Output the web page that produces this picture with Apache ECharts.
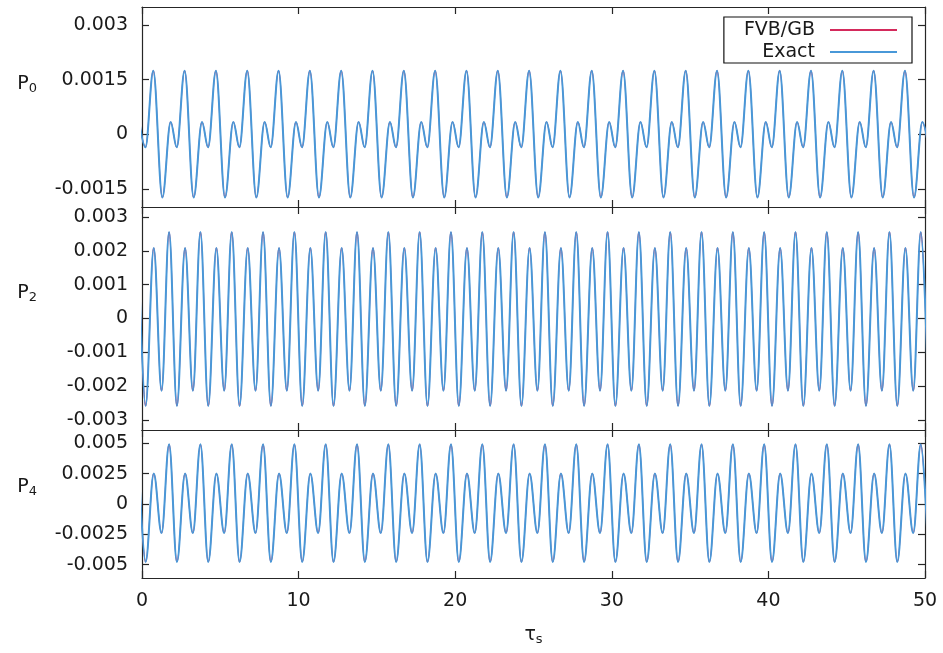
<!DOCTYPE html>
<html>
<head>
<meta charset="utf-8">
<script src="https://cdn.jsdelivr.net/npm/echarts@6/dist/echarts.min.js"></script>
<style>
  html, body { margin: 0; padding: 0; background: #ffffff; }
  #chart { width: 943px; height: 653px; }
</style>
</head>
<body>
<div id="chart"></div>
<script>
// Turning points (τs, value) of the P0 curve: small dip, main peak, main trough, small bump
const tauP0 = [
  -0.17,
  0.22, 0.72, 1.30, 1.83,
  2.22, 2.72, 3.30, 3.83,
  4.22, 4.72, 5.30, 5.83,
  6.22, 6.72, 7.30, 7.83,
  8.22, 8.72, 9.30, 9.83,
  10.22, 10.72, 11.30, 11.83,
  12.22, 12.72, 13.30, 13.83,
  14.22, 14.72, 15.30, 15.83,
  16.22, 16.72, 17.30, 17.83,
  18.22, 18.72, 19.30, 19.83,
  20.22, 20.72, 21.30, 21.83,
  22.22, 22.72, 23.30, 23.83,
  24.22, 24.72, 25.30, 25.83,
  26.22, 26.72, 27.30, 27.83,
  28.22, 28.72, 29.30, 29.83,
  30.22, 30.72, 31.30, 31.83,
  32.22, 32.72, 33.30, 33.83,
  34.22, 34.72, 35.30, 35.83,
  36.22, 36.72, 37.30, 37.83,
  38.22, 38.72, 39.30, 39.83,
  40.22, 40.72, 41.30, 41.83,
  42.22, 42.72, 43.30, 43.83,
  44.22, 44.72, 45.30, 45.83,
  46.22, 46.72, 47.30, 47.83,
  48.22, 48.72, 49.30, 49.83,
  50.22
];
const p0 = [
  0.00034,
  -0.00036, 0.00175, -0.00174, 0.00034,
  -0.00036, 0.00175, -0.00174, 0.00034,
  -0.00036, 0.00175, -0.00174, 0.00034,
  -0.00036, 0.00175, -0.00174, 0.00034,
  -0.00036, 0.00175, -0.00174, 0.00034,
  -0.00036, 0.00175, -0.00174, 0.00034,
  -0.00036, 0.00175, -0.00174, 0.00034,
  -0.00036, 0.00175, -0.00174, 0.00034,
  -0.00036, 0.00175, -0.00174, 0.00034,
  -0.00036, 0.00175, -0.00174, 0.00034,
  -0.00036, 0.00175, -0.00174, 0.00034,
  -0.00036, 0.00175, -0.00174, 0.00034,
  -0.00036, 0.00175, -0.00174, 0.00034,
  -0.00036, 0.00175, -0.00174, 0.00034,
  -0.00036, 0.00175, -0.00174, 0.00034,
  -0.00036, 0.00175, -0.00174, 0.00034,
  -0.00036, 0.00175, -0.00174, 0.00034,
  -0.00036, 0.00175, -0.00174, 0.00034,
  -0.00036, 0.00175, -0.00174, 0.00034,
  -0.00036, 0.00175, -0.00174, 0.00034,
  -0.00036, 0.00175, -0.00174, 0.00034,
  -0.00036, 0.00175, -0.00174, 0.00034,
  -0.00036, 0.00175, -0.00174, 0.00034,
  -0.00036, 0.00175, -0.00174, 0.00034,
  -0.00036, 0.00175, -0.00174, 0.00034,
  -0.00036
];

// Turning points shared by P2 and P4: deep trough, lower peak, shallow trough, higher peak
const tauP24 = [
  -0.27,
  0.23, 0.75, 1.25, 1.73,
  2.23, 2.75, 3.25, 3.73,
  4.23, 4.75, 5.25, 5.73,
  6.23, 6.75, 7.25, 7.73,
  8.23, 8.75, 9.25, 9.73,
  10.23, 10.75, 11.25, 11.73,
  12.23, 12.75, 13.25, 13.73,
  14.23, 14.75, 15.25, 15.73,
  16.23, 16.75, 17.25, 17.73,
  18.23, 18.75, 19.25, 19.73,
  20.23, 20.75, 21.25, 21.73,
  22.23, 22.75, 23.25, 23.73,
  24.23, 24.75, 25.25, 25.73,
  26.23, 26.75, 27.25, 27.73,
  28.23, 28.75, 29.25, 29.73,
  30.23, 30.75, 31.25, 31.73,
  32.23, 32.75, 33.25, 33.73,
  34.23, 34.75, 35.25, 35.73,
  36.23, 36.75, 37.25, 37.73,
  38.23, 38.75, 39.25, 39.73,
  40.23, 40.75, 41.25, 41.73,
  42.23, 42.75, 43.25, 43.73,
  44.23, 44.75, 45.25, 45.73,
  46.23, 46.75, 47.25, 47.73,
  48.23, 48.75, 49.25, 49.73,
  50.23
];
const p2 = [
  0.00256,
  -0.00259, 0.00209, -0.00214, 0.00256,
  -0.00259, 0.00209, -0.00214, 0.00256,
  -0.00259, 0.00209, -0.00214, 0.00256,
  -0.00259, 0.00209, -0.00214, 0.00256,
  -0.00259, 0.00209, -0.00214, 0.00256,
  -0.00259, 0.00209, -0.00214, 0.00256,
  -0.00259, 0.00209, -0.00214, 0.00256,
  -0.00259, 0.00209, -0.00214, 0.00256,
  -0.00259, 0.00209, -0.00214, 0.00256,
  -0.00259, 0.00209, -0.00214, 0.00256,
  -0.00259, 0.00209, -0.00214, 0.00256,
  -0.00259, 0.00209, -0.00214, 0.00256,
  -0.00259, 0.00209, -0.00214, 0.00256,
  -0.00259, 0.00209, -0.00214, 0.00256,
  -0.00259, 0.00209, -0.00214, 0.00256,
  -0.00259, 0.00209, -0.00214, 0.00256,
  -0.00259, 0.00209, -0.00214, 0.00256,
  -0.00259, 0.00209, -0.00214, 0.00256,
  -0.00259, 0.00209, -0.00214, 0.00256,
  -0.00259, 0.00209, -0.00214, 0.00256,
  -0.00259, 0.00209, -0.00214, 0.00256,
  -0.00259, 0.00209, -0.00214, 0.00256,
  -0.00259, 0.00209, -0.00214, 0.00256,
  -0.00259, 0.00209, -0.00214, 0.00256,
  -0.00259, 0.00209, -0.00214, 0.00256,
  -0.00259
];
const p4 = [
  0.00492,
  -0.00478, 0.00252, -0.00240, 0.00492,
  -0.00478, 0.00252, -0.00240, 0.00492,
  -0.00478, 0.00252, -0.00240, 0.00492,
  -0.00478, 0.00252, -0.00240, 0.00492,
  -0.00478, 0.00252, -0.00240, 0.00492,
  -0.00478, 0.00252, -0.00240, 0.00492,
  -0.00478, 0.00252, -0.00240, 0.00492,
  -0.00478, 0.00252, -0.00240, 0.00492,
  -0.00478, 0.00252, -0.00240, 0.00492,
  -0.00478, 0.00252, -0.00240, 0.00492,
  -0.00478, 0.00252, -0.00240, 0.00492,
  -0.00478, 0.00252, -0.00240, 0.00492,
  -0.00478, 0.00252, -0.00240, 0.00492,
  -0.00478, 0.00252, -0.00240, 0.00492,
  -0.00478, 0.00252, -0.00240, 0.00492,
  -0.00478, 0.00252, -0.00240, 0.00492,
  -0.00478, 0.00252, -0.00240, 0.00492,
  -0.00478, 0.00252, -0.00240, 0.00492,
  -0.00478, 0.00252, -0.00240, 0.00492,
  -0.00478, 0.00252, -0.00240, 0.00492,
  -0.00478, 0.00252, -0.00240, 0.00492,
  -0.00478, 0.00252, -0.00240, 0.00492,
  -0.00478, 0.00252, -0.00240, 0.00492,
  -0.00478, 0.00252, -0.00240, 0.00492,
  -0.00478, 0.00252, -0.00240, 0.00492,
  -0.00478
];

// Axis ranges and tick labels
const xRange = [0, 50];
const xStep = 10;
const yRangeP0 = [-0.002, 0.0035];
const yRangeP2 = [-0.0033, 0.0033];
const yRangeP4 = [-0.0061, 0.0061];
const yTicksP0 = [-0.0015, 0, 0.0015, 0.003];
const yTicksP2 = [-0.003, -0.002, -0.001, 0, 0.001, 0.002, 0.003];
const yTicksP4 = [-0.005, -0.0025, 0, 0.0025, 0.005];
const panelNames = ['0', '2', '4'];
const seriesNames = ['FVB/GB', 'Exact'];

const FONT = 'DejaVu Sans';
const INK = '#1a1a1a';
const FRAME = '#262626';
const COLORS = { 'FVB/GB': '#d42a5c', 'Exact': '#4898d8' };

const panels = [
  { top: 7,   height: 200, range: yRangeP0, ticks: yTicksP0, tau: tauP0,  vals: p0, lift: 46 },
  { top: 207, height: 223, range: yRangeP2, ticks: yTicksP2, tau: tauP24, vals: p2, lift: 50 },
  { top: 430, height: 148, range: yRangeP4, ticks: yTicksP4, tau: tauP24, vals: p4, lift: 34 }
];

const frameLine = { show: true, onZero: false, lineStyle: { color: FRAME, width: 1.2 } };
const tickIn = { show: true, inside: true, length: 7, lineStyle: { color: FRAME, width: 1.2 } };

const grid = [], xAxis = [], yAxis = [], series = [];

panels.forEach(function (p, i) {
  grid.push({ left: 142, right: 18, top: p.top, height: p.height, containLabel: false });

  const isLast = i === panels.length - 1;
  // bottom axis (labels only under the last panel) and mirrored top axis
  xAxis.push({
    type: 'value', gridIndex: i, position: 'bottom',
    min: xRange[0], max: xRange[1], interval: xStep,
    axisLine: frameLine, axisTick: tickIn, splitLine: { show: false },
    axisLabel: { show: isLast, margin: 14, color: INK, fontFamily: FONT, fontSize: 19 },
    name: isLast ? 'τ{s|s}' : '',
    nameLocation: 'middle', nameGap: 46,
    nameTextStyle: {
      color: INK, fontFamily: FONT, fontSize: 19, lineHeight: 22,
      rich: { s: { fontFamily: FONT, fontSize: 13, lineHeight: 15, verticalAlign: 'bottom', color: INK } }
    }
  });
  xAxis.push({
    type: 'value', gridIndex: i, position: 'top',
    min: xRange[0], max: xRange[1], interval: xStep,
    axisLine: frameLine, axisTick: tickIn, splitLine: { show: false },
    axisLabel: { show: false }
  });

  // left axis with labels and mirrored right axis
  yAxis.push({
    type: 'value', gridIndex: i, position: 'left',
    min: p.range[0], max: p.range[1],
    axisLine: frameLine,
    axisTick: Object.assign({}, tickIn, { customValues: p.ticks }),
    splitLine: { show: false },
    axisLabel: {
      customValues: p.ticks, margin: 14, color: INK, fontFamily: FONT, fontSize: 19,
      formatter: function (v) { return String(v); }
    },
    name: 'P{s|' + panelNames[i] + '}',
    nameLocation: 'middle', nameRotate: 0, nameGap: 105,
    nameTextStyle: {
      color: INK, fontFamily: FONT, fontSize: 19, lineHeight: 22,
      padding: [0, 0, p.lift, 0],
      rich: { s: { fontFamily: FONT, fontSize: 13, lineHeight: 15, verticalAlign: 'bottom', color: INK } }
    }
  });
  yAxis.push({
    type: 'value', gridIndex: i, position: 'right',
    min: p.range[0], max: p.range[1],
    axisLine: frameLine,
    axisTick: Object.assign({}, tickIn, { customValues: p.ticks }),
    splitLine: { show: false },
    axisLabel: { show: false, customValues: p.ticks }
  });

  const pts = p.tau.map(function (t, k) { return [t, p.vals[k]]; });
  seriesNames.forEach(function (name) {
    series.push({
      name: name, type: 'line',
      xAxisIndex: i * 2, yAxisIndex: i * 2,
      data: pts,
      showSymbol: false, symbol: 'none',
      smooth: 0.36, smoothMonotone: 'x',
      clip: true,
      color: COLORS[name],
      lineStyle: { color: COLORS[name], width: name === 'Exact' ? 2 : 1 },
      z: name === 'Exact' ? 3 : 2,
      emphasis: { disabled: true }
    });
  });
});

const chart = echarts.init(document.getElementById('chart'), null, { renderer: 'canvas' });
chart.setOption({
  backgroundColor: '#ffffff',
  animation: false,
  grid: grid,
  xAxis: xAxis,
  yAxis: yAxis,
  legend: {
    data: seriesNames,
    orient: 'vertical',
    align: 'right',
    right: 31, top: 17,
    backgroundColor: '#ffffff',
    borderColor: '#111111', borderWidth: 1.2, borderRadius: 0,
    padding: [3, 15, 1, 20],
    itemGap: 2,
    itemWidth: 67, itemHeight: 2,
    icon: 'rect',
    selectedMode: false,
    textStyle: { color: INK, fontFamily: FONT, fontSize: 19, lineHeight: 20, padding: [0, 10, 0, 0] }
  },
  series: series
});
</script>
</body>
</html>
